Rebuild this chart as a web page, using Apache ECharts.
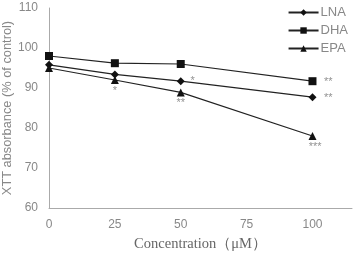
<!DOCTYPE html>
<html>
<head>
<meta charset="utf-8">
<script src="https://cdn.jsdelivr.net/npm/echarts@6/dist/echarts.min.js"></script>
<style>
  html, body { margin: 0; padding: 0; background: #fff; }
  #chart { width: 357px; height: 258px; }
</style>
</head>
<body>
<div id="chart"></div>
<script>
// concentrations (uM)
var concentrations = [0, 25, 50, 100];
// XTT absorbance, % of control
var lnaValues = [95.8, 93.4, 91.7, 87.7];
var dhaValues = [98.0, 96.2, 96.0, 91.7];
var epaValues = [95.0, 92.0, 88.9, 78.0];
var xTicks = [0, 25, 50, 75, 100];
var yTicks = [60, 70, 80, 90, 100, 110];
// significance marks: [x, y, text]
var starMarks = [
  [25, 89.2, '*'],
  [54.5, 91.8, '*'],
  [50, 86.2, '**'],
  [106, 91.6, '**'],
  [106, 87.6, '**'],
  [101, 75.2, '***']
];

var chart = echarts.init(document.getElementById('chart'));

function pairs(vals) {
  return concentrations.map(function (c, i) { return [c, vals[i]]; });
}

var lineColor = '#222';
var labelFont = '"Liberation Sans", Arial, sans-serif';

chart.setOption({
  animation: false,
  grid: { left: 49, right: 5, top: 8, bottom: 50, containLabel: false, outerBoundsMode: 'none' },
  legend: {
    orient: 'vertical',
    right: 4,
    top: 1,
    itemWidth: 30,
    itemHeight: 8,
    itemGap: 5,
    textStyle: { color: '#888', fontSize: 13, fontFamily: labelFont, padding: [0, 0, 0, -3] },
    data: ['LNA', 'DHA', 'EPA']
  },
  xAxis: {
    type: 'value',
    min: 0,
    max: 115,
    interval: 25,
    name: 'Concentration（μM）',
    nameLocation: 'middle',
    nameGap: 29,
    nameMoveOverlap: false,
    nameTextStyle: { color: '#666', fontSize: 14.5, fontFamily: '"Liberation Serif", "DejaVu Serif", serif' },
    axisLine: { lineStyle: { color: '#aaa', width: 1 } },
    axisTick: { show: false },
    splitLine: { show: false },
    axisLabel: {
      color: '#888', fontSize: 12, fontFamily: labelFont, margin: 11,
      formatter: function (v) { return xTicks.indexOf(v) >= 0 ? v : ''; }
    }
  },
  yAxis: {
    type: 'value',
    min: yTicks[0],
    max: yTicks[yTicks.length - 1],
    interval: 10,
    name: 'XTT absorbance (% of control)',
    nameLocation: 'middle',
    nameGap: 35,
    nameMoveOverlap: false,
    nameTextStyle: { color: '#888', fontSize: 12.8, fontFamily: labelFont },
    axisLine: { show: true, lineStyle: { color: '#aaa', width: 1 } },
    axisTick: { show: false },
    splitLine: { show: false },
    axisLabel: { color: '#888', fontSize: 12, fontFamily: labelFont, margin: 11 }
  },
  series: [
    {
      name: 'LNA', type: 'line', data: pairs(lnaValues),
      symbol: 'diamond', symbolSize: 8,
      lineStyle: { color: lineColor, width: 1.2 },
      itemStyle: { color: '#111' }
    },
    {
      name: 'DHA', type: 'line', data: pairs(dhaValues),
      symbol: 'rect', symbolSize: 8,
      lineStyle: { color: lineColor, width: 1.2 },
      itemStyle: { color: '#111' }
    },
    {
      name: 'EPA', type: 'line', data: pairs(epaValues),
      symbol: 'triangle', symbolSize: 8,
      lineStyle: { color: lineColor, width: 1.2 },
      itemStyle: { color: '#111' }
    },
    {
      name: 'stars', type: 'scatter', data: starMarks,
      symbolSize: 0,
      silent: true,
      label: {
        show: true, position: 'inside',
        formatter: function (p) { return p.data[2]; },
        color: '#777', fontSize: 11, fontFamily: labelFont
      }
    }
  ]
});
</script>
</body>
</html>
